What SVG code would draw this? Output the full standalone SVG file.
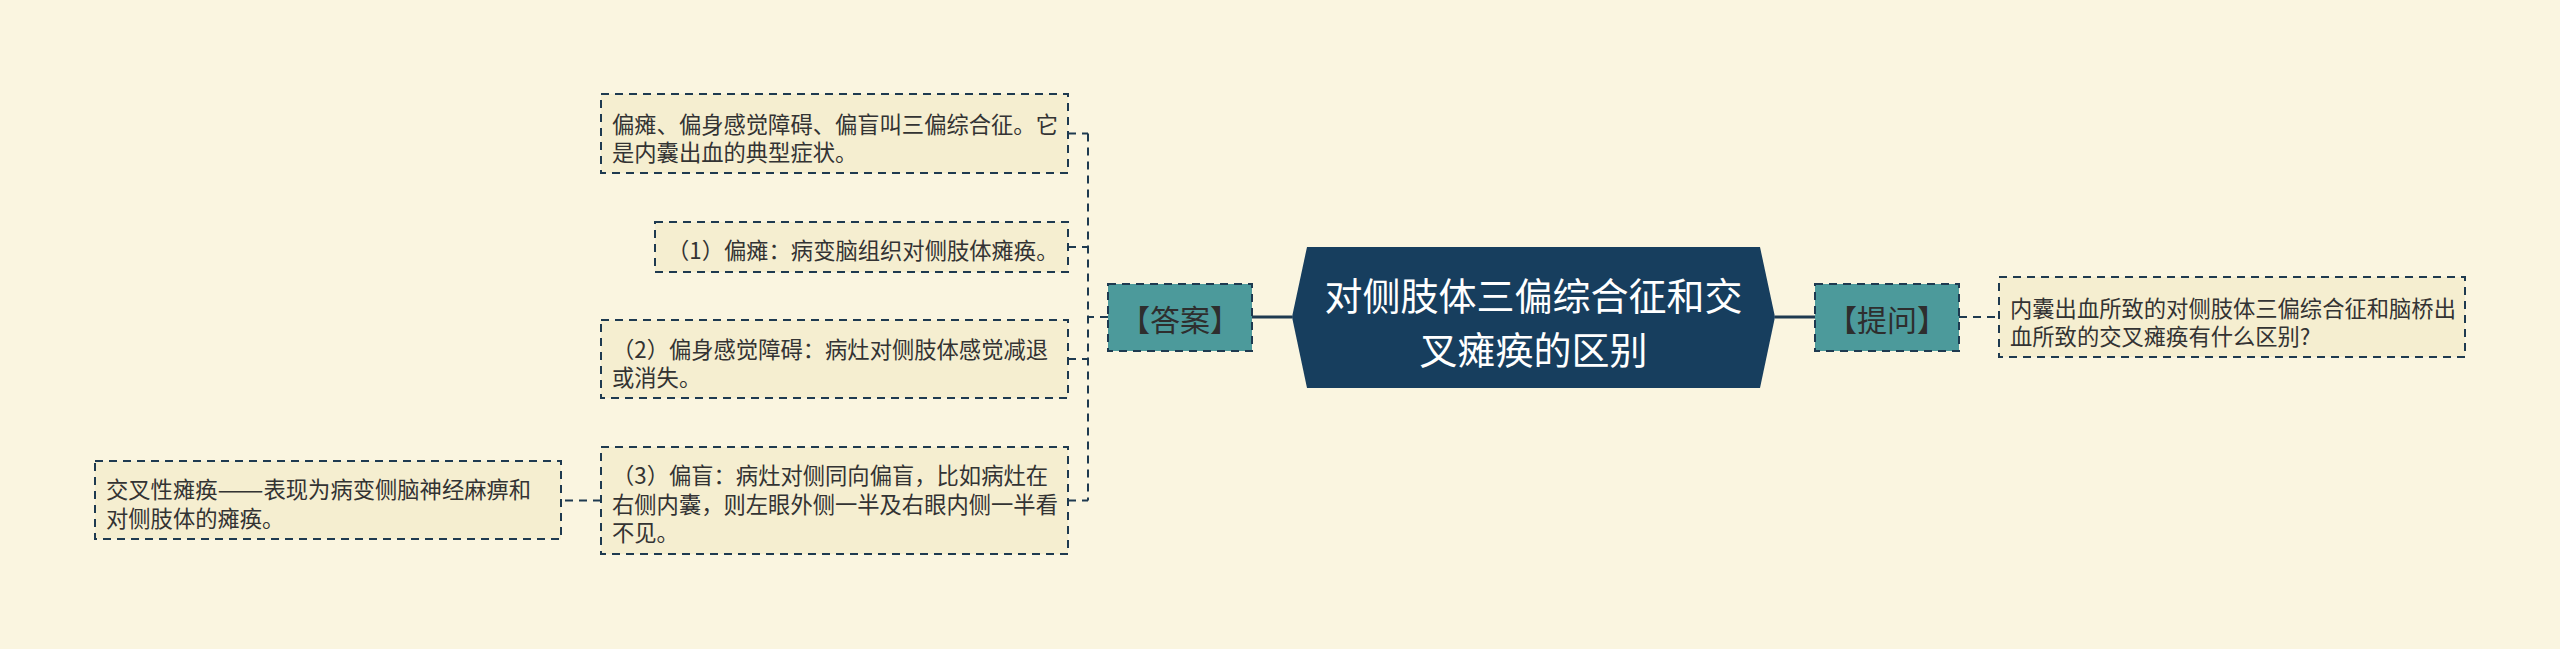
<svg xmlns="http://www.w3.org/2000/svg" width="2560" height="649" viewBox="0 0 2560 649">
<style>
.bg{fill:#FAF5E0}
.box{fill:#F5EED0;stroke:#1E3A50;stroke-width:2;stroke-dasharray:8 6}
.tag{fill:#4C9A9B;stroke:#1E3A50;stroke-width:2;stroke-dasharray:8 6}
.t{font-family:"Noto Sans CJK SC","Noto Sans",sans-serif;font-size:22.3px;fill:#333333;dominant-baseline:central}
.tt{font-family:"Noto Sans CJK SC","Noto Sans",sans-serif;font-size:30px;fill:#2E2E2E;dominant-baseline:central;text-anchor:middle}
.ct{font-family:"Noto Sans CJK SC","Noto Sans",sans-serif;font-size:38px;fill:#FFFFFF;dominant-baseline:central;text-anchor:middle}
.dash{fill:none;stroke:#1E3A50;stroke-width:2;stroke-dasharray:8 6}
.solid{fill:none;stroke:#1E3A50;stroke-width:3}
</style>
<rect class="bg" x="0" y="0" width="2560" height="649"/>
<g id="connectors">
<path class="solid" d="M1252 317 H1292"/>
<path class="solid" d="M1775 317 H1815"/>
<path class="dash" d="M1108 317 H1088"/>
<path class="dash" d="M1088 133.5 V500.5"/>
<path class="dash" d="M1068 133.5 H1088"/>
<path class="dash" d="M1068 247 H1088"/>
<path class="dash" d="M1068 359 H1088"/>
<path class="dash" d="M1068 500.5 H1088"/>
<path class="dash" d="M601 500.5 H561"/>
<path class="dash" d="M1959 317 H1999"/>
</g>
<g id="center">
<polygon points="1292,317 1307,247 1760,247 1775,317 1760,388 1307,388" fill="#173E5E"/>
<text class="ct" x="1533.5" y="293">对侧肢体三偏综合征和交</text>
<text class="ct" x="1533.5" y="347">叉瘫痪的区别</text>
</g>
<g id="answer">
<rect class="tag" x="1108" y="284" width="144" height="67"/>
<text class="tt" x="1180" y="317.5">【答案】</text>
</g>
<g id="ask">
<rect class="tag" x="1815" y="284" width="144" height="67"/>
<text class="tt" x="1887" y="317.5">【提问】</text>
</g>
<g id="question">
<rect class="box" x="1999" y="277" width="466" height="80"/>
<text class="t" x="2010" y="306.5">内囊出血所致的对侧肢体三偏综合征和脑桥出</text>
<text class="t" x="2010" y="335">血所致的交叉瘫痪有什么区别?</text>
</g>
<g id="n1">
<rect class="box" x="601" y="94" width="467" height="79"/>
<text class="t" x="612" y="123">偏瘫、偏身感觉障碍、偏盲叫三偏综合征。它</text>
<text class="t" x="612" y="151">是内囊出血的典型症状。</text>
</g>
<g id="n2">
<rect class="box" x="655" y="222" width="413" height="50"/>
<text class="t" x="667" y="248.5">（1）偏瘫：病变脑组织对侧肢体瘫痪。</text>
</g>
<g id="n3">
<rect class="box" x="601" y="320" width="467" height="78"/>
<text class="t" x="612" y="347.5">（2）偏身感觉障碍：病灶对侧肢体感觉减退</text>
<text class="t" x="612" y="376">或消失。</text>
</g>
<g id="n4">
<rect class="box" x="601" y="447" width="467" height="107"/>
<text class="t" x="612" y="474">（3）偏盲：病灶对侧同向偏盲，比如病灶在</text>
<text class="t" x="612" y="502.5">右侧内囊，则左眼外侧一半及右眼内侧一半看</text>
<text class="t" x="612" y="531">不见。</text>
</g>
<g id="n5">
<rect class="box" x="95" y="461" width="466" height="78"/>
<text class="t" x="106" y="488">交叉性瘫痪<tspan textLength="46" lengthAdjust="spacingAndGlyphs">——</tspan>表现为病变侧脑神经麻痹和</text>
<text class="t" x="106" y="516.5">对侧肢体的瘫痪。</text>
</g>
</svg>
